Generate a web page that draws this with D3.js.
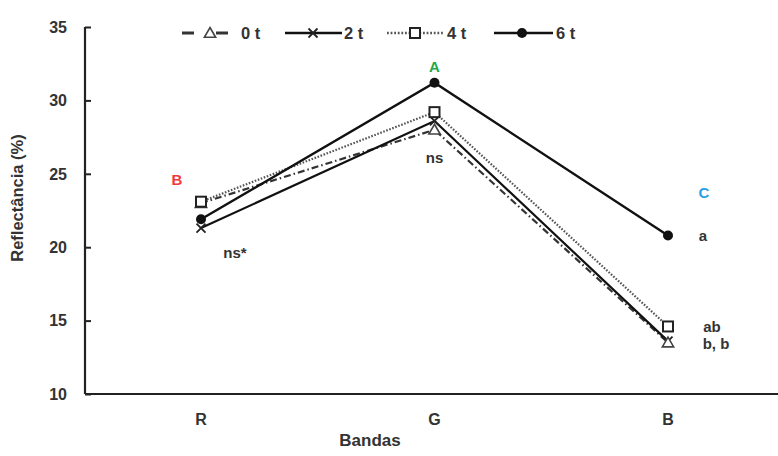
<!DOCTYPE html>
<html>
<head>
<meta charset="utf-8">
<script src="https://cdn.jsdelivr.net/npm/d3@7"></script>
<style>
body{margin:0;background:#fff;}
text{font-family:"Liberation Sans",Arial,sans-serif;}
</style>
</head>
<body>
<svg id="c" width="778" height="456"></svg>
<script>
const bands = ["R","G","B"];
const seriesNames = ["0 t","2 t","4 t","6 t"];
const v0t = [23.0, 28.0, 13.5];
const v2t = [21.3, 28.6, 13.6];
const v4t = [23.1, 29.2, 14.6];
const v6t = [21.9, 31.2, 20.8];
const yTicks = [10,15,20,25,30,35];
const letters = [{t:"B",b:"R",v:24.6,c:"#f03a3a",dx:-24},{t:"A",b:"G",v:32.3,c:"#22a84a",dx:0},{t:"C",b:"B",v:23.7,c:"#2a9fe6",dx:36}];
const notes = [{t:"ns*",b:"R",v:19.6,dx:34},{t:"ns",b:"G",v:26.1,dx:0},{t:"a",b:"B",v:20.8,dx:35},{t:"ab",b:"B",v:14.6,dx:44},{t:"b, b",b:"B",v:13.4,dx:48}];

const series = [
  {name:seriesNames[0], vals:v0t, marker:"tri", dash:"7,3,1.5,3", w:2.2, color:"#333"},
  {name:seriesNames[1], vals:v2t, marker:"x", dash:null, w:2.2, color:"#111"},
  {name:seriesNames[2], vals:v4t, marker:"sq", dash:"1.6,1.6", w:2.2, color:"#555"},
  {name:seriesNames[3], vals:v6t, marker:"dot", dash:null, w:2.4, color:"#111"}
];

const svg = d3.select("#c");
const x = d3.scalePoint().domain(bands).range([201, 668]);
const y = d3.scaleLinear().domain([10,35]).range([394, 27]);

// axes
svg.append("line").attr("x1",85).attr("x2",778).attr("y1",394).attr("y2",394).attr("stroke","#222").attr("stroke-width",2.2);
svg.append("line").attr("x1",85).attr("x2",85).attr("y1",27).attr("y2",394).attr("stroke","#222").attr("stroke-width",2.2);
const yAxis = d3.axisRight(y).tickValues(yTicks).tickSize(6).tickFormat("");
const ga = svg.append("g").attr("transform","translate(85,0)").call(yAxis);
ga.select(".domain").remove();
ga.selectAll("line").attr("stroke","#222").attr("stroke-width",2);
svg.selectAll(".ylab").data(yTicks).enter().append("text")
  .attr("x",67).attr("y",d=>y(d)).attr("dy","0.36em").attr("text-anchor","end")
  .attr("font-size",16).attr("font-weight","bold").attr("fill","#333").text(d=>d);
svg.selectAll(".xlab").data(bands).enter().append("text")
  .attr("x",d=>x(d)).attr("y",425).attr("text-anchor","middle")
  .attr("font-size",16).attr("font-weight","bold").attr("fill","#333").text(d=>d);
svg.append("text").attr("x",370).attr("y",446).attr("text-anchor","middle")
  .attr("font-size",17).attr("font-weight","bold").attr("fill","#333").text("Bandas");
svg.append("text").attr("transform","translate(23,198) rotate(-90)").attr("text-anchor","middle")
  .attr("font-size",16.5).attr("font-weight","bold").attr("fill","#333").text("Reflectância (%)");

function drawMarker(g, m, cx, cy){
  if(m==="tri"){
    g.append("path").attr("d",d3.symbol().type(d3.symbolTriangle).size(55)()).attr("transform",`translate(${cx},${cy+1})`)
      .attr("fill","#fff").attr("stroke","#444").attr("stroke-width",1.6);
  } else if(m==="x"){
    g.append("path").attr("d",`M${cx-4.5},${cy-4.5}L${cx+4.5},${cy+4.5}M${cx-4.5},${cy+4.5}L${cx+4.5},${cy-4.5}`)
      .attr("stroke","#222").attr("stroke-width",1.8);
  } else if(m==="sq"){
    g.append("rect").attr("x",cx-5).attr("y",cy-5).attr("width",10).attr("height",10)
      .attr("fill","#fff").attr("stroke","#222").attr("stroke-width",2);
  } else {
    g.append("circle").attr("cx",cx).attr("cy",cy).attr("r",5).attr("fill","#111");
  }
}

const line = d3.line().x((d,i)=>x(bands[i])).y(d=>y(d));
[0,1,2,3].forEach(k=>{
  const s = series[k];
  svg.append("path").attr("d",line(s.vals)).attr("fill","none").attr("stroke",s.color)
    .attr("stroke-width",s.w).attr("stroke-dasharray",s.dash);
});
[1,0,2,3].forEach(k=>{
  const s = series[k];
  const g = svg.append("g");
  s.vals.forEach((v,i)=>drawMarker(g,s.marker,x(bands[i]),y(v)));
});

// legend
const legItems = [
  {x1:182,x2:232,mx:210,tx:241},
  {x1:285,x2:342,mx:313,tx:344},
  {x1:387,x2:443,mx:415,tx:447},
  {x1:494,x2:553,mx:522,tx:556}
];
series.forEach((s,k)=>{
  const L = legItems[k];
  const g = svg.append("g");
  g.append("line").attr("x1",L.x1).attr("x2",L.x2).attr("y1",33).attr("y2",33)
    .attr("stroke",s.color).attr("stroke-width",k===0?3:2.6)
    .attr("stroke-dasharray",k===0?"12,22":(k===2?"1.8,1.8":null));
  drawMarker(g,s.marker,L.mx,33);
  g.append("text").attr("x",L.tx).attr("y",33).attr("dy","0.36em").attr("font-size",16.5)
    .attr("font-weight","bold").attr("fill","#333").text(s.name);
});

svg.selectAll(".let").data(letters).enter().append("text")
  .attr("x",d=>x(d.b)+d.dx).attr("y",d=>y(d.v)).attr("dy","0.36em").attr("text-anchor","middle")
  .attr("font-size",15).attr("font-weight","bold").attr("fill",d=>d.c).text(d=>d.t);
svg.selectAll(".note").data(notes).enter().append("text")
  .attr("x",d=>x(d.b)+d.dx).attr("y",d=>y(d.v)).attr("dy","0.36em").attr("text-anchor","middle")
  .attr("font-size",15).attr("font-weight","bold").attr("fill","#333").text(d=>d.t);
</script>
</body>
</html>
